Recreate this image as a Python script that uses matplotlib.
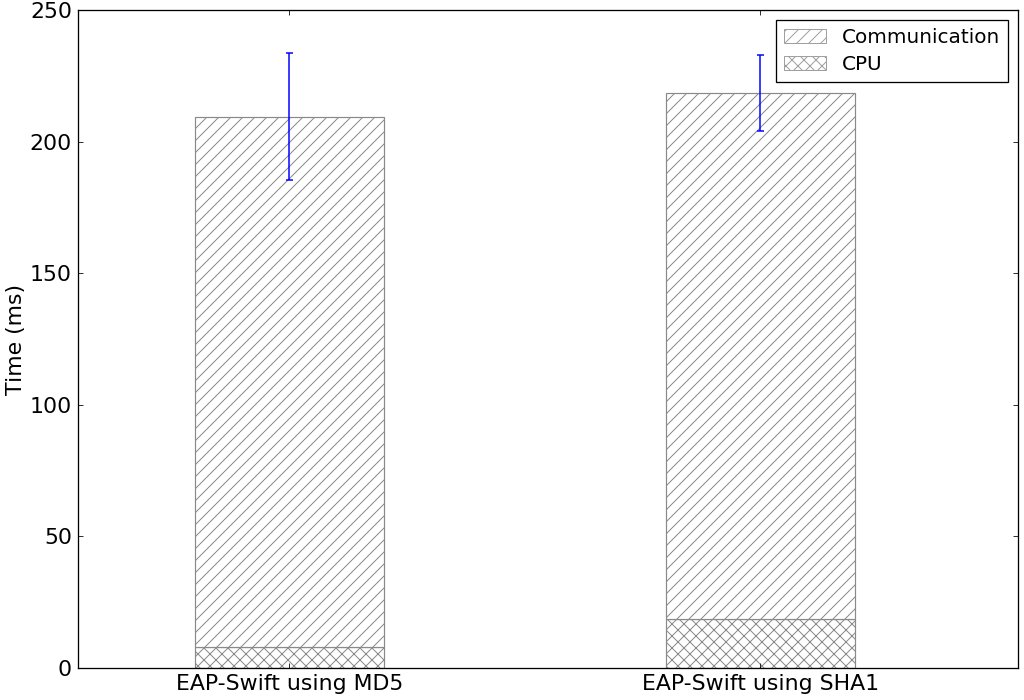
import matplotlib
matplotlib.use('Agg')
import matplotlib.pyplot as plt
from matplotlib.patches import Patch

# Dati
labels = ['EAP-Swift using MD5', 'EAP-Swift using SHA1']
cpu = [8.0, 18.5]
communication = [201.5, 200.0]
errors = [24.0, 14.3]

plt.rcParams['hatch.color'] = '#a0a0a0'
plt.rcParams['hatch.linewidth'] = 1.0

DPI = 72
fig = plt.figure(figsize=(1024 / DPI, 700 / DPI), dpi=DPI)
ax = fig.add_axes([78 / 1024, 32 / 700, 940 / 1024, 658 / 700])

x = [0, 1]
width = 0.4
totals = [c + m for c, m in zip(cpu, communication)]

ax.bar(x, cpu, width, color='white', edgecolor='#8a8a8a', hatch='xx', linewidth=1.2)
ax.bar(x, communication, width, bottom=cpu, color='white', edgecolor='#8a8a8a',
       hatch='//', linewidth=1.2)
ax.errorbar(x, totals, yerr=errors, fmt='none', ecolor='blue', elinewidth=1.5,
            capsize=3.5, capthick=1.5)

ax.set_xlim(-0.449, 1.547)
ax.set_ylim(0, 250)
ax.set_xticks(x)
ax.set_xticklabels(labels, fontsize=22)
ax.set_yticks([0, 50, 100, 150, 200, 250])
ax.tick_params(axis='y', labelsize=22, direction='in', right=True, length=5, pad=6)
ax.tick_params(axis='x', direction='in', top=True, length=5, pad=6)
ax.set_ylabel('Time (ms)', fontsize=22)
for s in ax.spines.values():
    s.set_linewidth(1.3)

handles = [Patch(facecolor='white', edgecolor='#a0a0a0', hatch='//', label='Communication'),
           Patch(facecolor='white', edgecolor='#a0a0a0', hatch='xx', label='CPU')]
leg = ax.legend(handles=handles, loc='upper right', fontsize=20, fancybox=False,
                edgecolor='black', framealpha=1, borderaxespad=0.5,
                handlelength=2.1, handleheight=0.7, labelspacing=0.4)
leg.get_frame().set_linewidth(1.3)

fig.savefig('out.png', dpi=DPI)
